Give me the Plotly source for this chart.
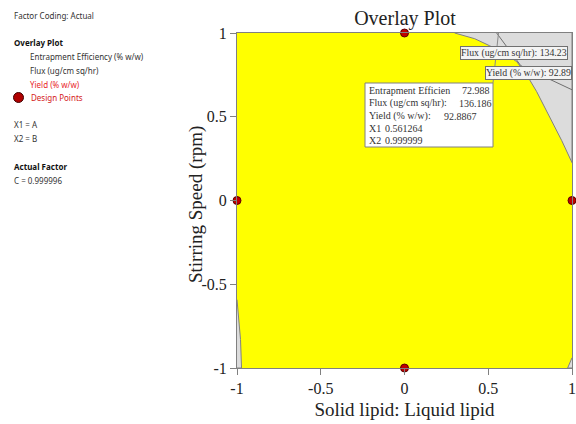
import plotly.graph_objects as go

# ---------------- data ----------------
# design points (coded factor levels)
design_x1 = [0, -1, 1, 0]
design_x2 = [1, 0, 0, -1]

# failing-constraint region (top right), boundary of the acceptable (yellow) window
grey_top_x = [0.299, 0.419, 0.508, 0.598, 0.670, 0.729, 0.789, 0.867, 0.939, 1.0, 1.0]
grey_top_y = [1.0, 0.966, 0.924, 0.877, 0.829, 0.751, 0.650, 0.500, 0.357, 0.226, 1.0]

# small failing sliver at left edge
grey_left_x = [-1.0, -0.988, -0.979, -0.973, -1.0]
grey_left_y = [-0.592, -0.711, -0.830, -1.0, -1.0]

# small failing corner at bottom right
grey_br_x = [1.0, 0.974, 1.0]
grey_br_y = [-0.939, -1.0, -1.0]

# contour lines inside the grey region
flux_line_x = [0.550, 0.694]
flux_line_y = [1.0, 0.805]
yield_line_x = [0.694, 1.0]
yield_line_y = [0.805, 0.661]

# flag point
flag_x1 = 0.561264
flag_x2 = 0.999999
flag_labels = ["Entrapment Efficien", "Flux (ug/cm sq/hr):", "Yield (% w/w):", "X1", "X2"]
flag_values = ["72.988", "136.186", "92.8867", "0.561264", "0.999999"]

tick_vals = [-1, -0.5, 0, 0.5, 1]
tick_text = ["-1", "-0.5", "0", "0.5", "1"]

# ---------------- geometry helpers ----------------
W, H = 576, 424
ML, MR, MT, MB = 237, 4, 33, 56
PW = W - ML - MR
PH = H - MT - MB


def dx(px):
    return -1 + (px - ML) / PW * 2


def dy(py):
    return 1 - (py - MT) / PH * 2


def paper_x(px):
    return (px - ML) / PW


def paper_y(py):
    return 1 - (py - MT) / PH


GREY_FILL = "#dcdcdc"
LINE = "#808080"
SERIF = "Liberation Serif, Times New Roman, serif"
SANS = "Noto Sans, sans-serif"

fig = go.Figure()

for xs, ys in [(grey_top_x, grey_top_y), (grey_left_x, grey_left_y), (grey_br_x, grey_br_y)]:
    fig.add_trace(go.Scatter(x=xs, y=ys, mode="lines", fill="toself",
                             fillcolor=GREY_FILL, line=dict(color=LINE, width=1),
                             hoverinfo="skip", showlegend=False))

for xs, ys in [(flux_line_x, flux_line_y), (yield_line_x, yield_line_y)]:
    fig.add_trace(go.Scatter(x=xs, y=ys, mode="lines",
                             line=dict(color="#6e6e6e", width=1),
                             hoverinfo="skip", showlegend=False))

# leader line from flag point to flag box
fig.add_trace(go.Scatter(x=[flag_x1, dx(493)], y=[flag_x2, dy(83)], mode="lines",
                         line=dict(color="#8a8a8a", width=1), hoverinfo="skip",
                         showlegend=False, cliponaxis=False))

fig.add_trace(go.Scatter(x=design_x1, y=design_x2, mode="markers",
                         marker=dict(color="#c00000", size=8,
                                     line=dict(color="#5a0000", width=1)),
                         cliponaxis=False, showlegend=False))

# flag box
fig.add_shape(type="rect", xref="x", yref="y",
              x0=dx(365), x1=dx(493), y0=dy(83), y1=dy(147),
              fillcolor="white", line=dict(color="#808080", width=1), layer="above")

line_ys = [90.7, 103.3, 116, 128.7, 140.7]
value_xs = [460, 456.5, 441.5, 383, 383]
annotations = []
for lab, val, py, vx in zip(flag_labels, flag_values, line_ys, value_xs):
    annotations.append(dict(xref="paper", yref="paper", x=paper_x(367.3), y=paper_y(py),
                            xanchor="left", yanchor="middle", text=lab, showarrow=False,
                            font=dict(family=SERIF, size=10, color="#333333")))
    annotations.append(dict(xref="paper", yref="paper", x=paper_x(vx), y=paper_y(py),
                            xanchor="left", yanchor="middle", text=val, showarrow=False,
                            font=dict(family=SERIF, size=10, color="#333333")))

# contour labels
annotations.append(dict(xref="paper", yref="paper", x=paper_x(513.5), y=paper_y(53),
                        xanchor="center", yanchor="middle", text="Flux (ug/cm sq/hr): 134.23",
                        showarrow=False, bgcolor="#f4f4f4", bordercolor="#707070",
                        borderwidth=1, borderpad=0,
                        font=dict(family=SERIF, size=9.8, color="#333333")))
annotations.append(dict(xref="paper", yref="paper", x=paper_x(528), y=paper_y(73.3),
                        xanchor="center", yanchor="middle", text="Yield (% w/w): 92.89",
                        showarrow=False, bgcolor="#f4f4f4", bordercolor="#707070",
                        borderwidth=1, borderpad=0,
                        font=dict(family=SERIF, size=9.8, color="#333333")))

# y-axis title
annotations.append(dict(xref="paper", yref="paper", x=paper_x(196), y=paper_y(205),
                        xanchor="center", yanchor="middle", textangle=-90,
                        text="Stirring Speed (rpm)", showarrow=False,
                        font=dict(family=SERIF, size=19, color="#222222")))

# left info panel
info = [
    ("Factor Coding: Actual", 12, 15, "#333333", False),
    ("Overlay Plot", 12, 43, "#111111", True),
    ("Entrapment Efficiency (% w/w)", 28, 57, "#333333", False),
    ("Flux (ug/cm sq/hr)", 28, 70.5, "#333333", False),
    ("Yield (% w/w)", 28, 84, "#e8262a", False),
    ("Design Points", 29, 97.5, "#d42020", False),
    ("X1 = A", 12, 125, "#333333", False),
    ("X2 = B", 12, 138, "#333333", False),
    ("Actual Factor", 12, 166, "#111111", True),
    ("C = 0.999996", 12, 180, "#333333", False),
]
for txt, px, py, col, bold in info:
    annotations.append(dict(xref="paper", yref="paper", x=paper_x(px), y=paper_y(py),
                            xanchor="left", yanchor="middle",
                            text=("<b>%s</b>" % txt) if bold else txt, showarrow=False,
                            font=dict(family=SANS, size=8, color=col)))

fig.add_shape(type="circle", xref="paper", yref="paper",
              x0=paper_x(13.5), x1=paper_x(23.5), y0=paper_y(92.5), y1=paper_y(102.5),
              fillcolor="#b00000", line=dict(color="#400000", width=1))

fig.update_layout(
    width=W, height=H,
    margin=dict(l=ML, r=MR, t=MT, b=MB, autoexpand=False),
    paper_bgcolor="white", plot_bgcolor="#ffff00",
    showlegend=False,
    title=dict(text="Overlay Plot", x=405 / W, xanchor="center",
               y=1 - 18 / H, yanchor="middle",
               font=dict(family=SERIF, size=20, color="#222222")),
    annotations=annotations,
)

axis_common = dict(range=[-1, 1], tickvals=tick_vals, ticktext=tick_text,
                   showgrid=False, zeroline=False, showline=True, linecolor=LINE,
                   linewidth=1, mirror=True, ticks="outside", ticklen=6,
                   tickcolor=LINE, automargin=False,
                   tickfont=dict(family=SERIF, size=16, color="#222222"))
fig.update_xaxes(**axis_common,
                 title=dict(text="Solid lipid: Liquid lipid", standoff=6,
                            font=dict(family=SERIF, size=19, color="#222222")))
fig.update_yaxes(**axis_common)

fig.write_html("out.html", config={"displayModeBar": False},
               post_script="document.body.style.margin='0';document.body.style.overflow='hidden';")
